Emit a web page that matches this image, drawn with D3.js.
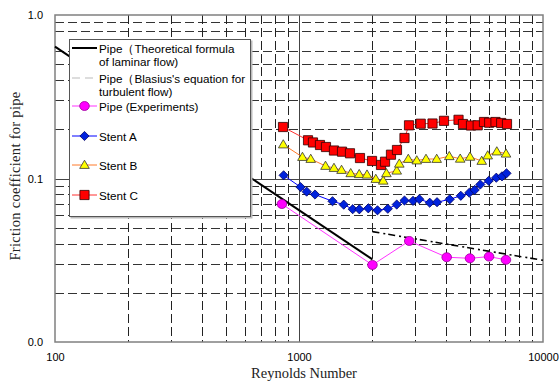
<!DOCTYPE html>
<html>
<head>
<meta charset="utf-8">
<script src="https://cdn.jsdelivr.net/npm/d3@7"></script>
<style>
body { margin: 0; background: #fff; }
text { font-family: "Liberation Sans", Arial, sans-serif; }
</style>
</head>
<body>
<svg id="chart" width="559" height="383"></svg>
<script>
// values
const pipeRe = [851, 2000, 2830, 4030, 5020, 6010, 7050];
const pipeF = [0.0698, 0.0296, 0.0415, 0.0330, 0.0325, 0.0333, 0.0318];

const stentARe = [865, 1014, 1075, 1163, 1372, 1525, 1660, 1767, 1923, 2097, 2312, 2515, 2706, 2933, 3112, 3434, 3679, 4146, 4604, 4989, 5250, 5534, 5993, 6436, 6792, 7086];
const stentAF = [0.1046, 0.0887, 0.0831, 0.0798, 0.0726, 0.0692, 0.0649, 0.0648, 0.0657, 0.0639, 0.0653, 0.0693, 0.0733, 0.0730, 0.0747, 0.0711, 0.0716, 0.0746, 0.0784, 0.0818, 0.0851, 0.0919, 0.0968, 0.1011, 0.1031, 0.1076];

const stentBRe = [862, 1033, 1117, 1284, 1391, 1494, 1629, 1765, 1900, 2064, 2214, 2282, 2515, 2577, 2805, 3038, 3315, 3667, 4130, 4578, 5021, 5609, 5935, 6467, 7055];
const stentBF = [0.1614, 0.1353, 0.1316, 0.1193, 0.1159, 0.1127, 0.1076, 0.1062, 0.1055, 0.0993, 0.0969, 0.1076, 0.1116, 0.1231, 0.1316, 0.1288, 0.1316, 0.1316, 0.1369, 0.1320, 0.1357, 0.1280, 0.1382, 0.1462, 0.1418];

const stentCRe = [860, 1089, 1141, 1219, 1290, 1391, 1501, 1618, 1778, 1992, 2168, 2252, 2382, 2521, 2706, 2824, 3154, 3525, 3929, 4506, 4700, 5069, 5400, 5731, 6019, 6388, 6741, 7120];
const stentCF = [0.2065, 0.1713, 0.1661, 0.1603, 0.1558, 0.1483, 0.1459, 0.1426, 0.1334, 0.1280, 0.1210, 0.1267, 0.1398, 0.1494, 0.1769, 0.2115, 0.2163, 0.2169, 0.2253, 0.2286, 0.2154, 0.2109, 0.2115, 0.2216, 0.2194, 0.2216, 0.2185, 0.2154];

// theory lines (end points)
const laminarRe = [100, 2000];
const laminarF = [0.64, 0.032];
const blasiusRe = [2000, 10000];
const blasiusF = [0.0473, 0.0316];

const xTicks = [100, 1000, 10000];
const yTicks = [0.01, 0.1, 1];
const xGrid = [200, 300, 400, 500, 600, 700, 800, 900, 2000, 3000, 4000, 5000, 6000, 7000, 8000, 9000];
const yGrid = [0.02, 0.03, 0.04, 0.05, 0.06, 0.07, 0.08, 0.09, 0.2, 0.3, 0.4, 0.5, 0.6, 0.8, 0.9];

const svg = d3.select("#chart");
const L = 55, R = 543, T = 15, B = 342;

const x = d3.scaleLog().domain([100, 10000]).range([L, R]);
const y = d3.scaleLog().domain([0.01, 1]).range([B, T]);

// grid
svg.append("g").selectAll("line").data(yGrid).enter().append("line")
  .attr("x1", L).attr("x2", R)
  .attr("y1", d => Math.round(y(d)) + 0.5).attr("y2", d => Math.round(y(d)) + 0.5)
  .attr("stroke", "#333").attr("stroke-dasharray", "9,4");
svg.append("g").selectAll("line").data(xGrid).enter().append("line")
  .attr("y1", T).attr("y2", B)
  .attr("x1", d => Math.round(x(d)) + 0.5).attr("x2", d => Math.round(x(d)) + 0.5)
  .attr("stroke", "#222").attr("stroke-dasharray", "9,4");

// solid lines at 0.1 and 1000
svg.append("line").attr("x1", L).attr("x2", R)
  .attr("y1", Math.round(y(0.1)) + 0.5).attr("y2", Math.round(y(0.1)) + 0.5)
  .attr("stroke", "#444");
svg.append("line").attr("y1", T).attr("y2", B)
  .attr("x1", Math.round(x(1000)) + 0.5).attr("x2", Math.round(x(1000)) + 0.5)
  .attr("stroke", "#444");

// frame
svg.append("rect").attr("x", L).attr("y", T).attr("width", R - L).attr("height", B - T)
  .attr("fill", "none").attr("stroke", "#808080").attr("stroke-width", 1.5);

// axes
const xAxis = svg.append("g").attr("transform", `translate(0,${B})`)
  .call(d3.axisBottom(x).tickValues(xTicks).tickFormat(d3.format("d")).tickSize(0).tickPadding(11));
xAxis.select(".domain").remove();
xAxis.selectAll("text").attr("font-size", 11).attr("fill", "#000")
  .attr("font-family", "Liberation Sans, Arial, sans-serif");

const yAxis = svg.append("g").attr("transform", `translate(${L},0)`)
  .call(d3.axisLeft(y).tickValues(yTicks).tickFormat(d3.format(".1f")).tickSize(0).tickPadding(12));
yAxis.select(".domain").remove();
yAxis.selectAll("text").attr("font-size", 11).attr("fill", "#000")
  .attr("font-family", "Liberation Sans, Arial, sans-serif");

svg.append("text").attr("x", 304).attr("y", 378).attr("text-anchor", "middle")
  .style("font-family", "Liberation Serif, Times New Roman, serif").attr("font-size", 14.5)
  .attr("fill", "#222")
  .text("Reynolds Number");
svg.append("text").attr("transform", "translate(20,176) rotate(-90)").attr("text-anchor", "middle")
  .style("font-family", "Liberation Serif, Times New Roman, serif").attr("font-size", 14.5)
  .attr("fill", "#222").attr("letter-spacing", 0.3)
  .text("Friction coefficient for pipe");

const line = d3.line().x(d => x(d[0])).y(d => y(d[1]));

// theory lines
svg.append("path").datum(d3.zip(laminarRe, laminarF)).attr("d", line)
  .attr("fill", "none").attr("stroke", "#000").attr("stroke-width", 2);
svg.append("path").datum(d3.zip(blasiusRe, blasiusF)).attr("d", line)
  .attr("fill", "none").attr("stroke", "#000").attr("stroke-width", 1.6)
  .attr("stroke-dasharray", "7,4,2,3");

// marker shapes
const shapes = {
  circle: "M4.8,0A4.8,4.5 0 1,1 -4.8,0A4.8,4.5 0 1,1 4.8,0Z",
  diamond: "M0,-4.6L4.6,0L0,4.6L-4.6,0Z",
  triangle: "M0,-4.8L4.8,3.4L-4.8,3.4Z",
  square: "M-4.6,-4.6H4.6V4.6H-4.6Z"
};

const series = [
  {name: "Pipe (Experiments)", re: pipeRe, f: pipeF, line: "#ff33ff", fill: "#ff00ff", stroke: "#990099", shape: "circle"},
  {name: "Stent A", re: stentARe, f: stentAF, line: "#0000ff", fill: "#0022dd", stroke: "#000066", shape: "diamond"},
  {name: "Stent B", re: stentBRe, f: stentBF, line: "#ff7a2a", fill: "#ffff00", stroke: "#333", shape: "triangle"},
  {name: "Stent C", re: stentCRe, f: stentCF, line: "#ff3030", fill: "#ff0000", stroke: "#300000", shape: "square"}
];

series.forEach(s => {
  const pts = d3.zip(s.re, s.f);
  svg.append("path").datum(pts).attr("d", line)
    .attr("fill", "none").attr("stroke", s.line).attr("stroke-width", 1);
  svg.append("g").selectAll("path").data(pts).enter().append("path")
    .attr("d", shapes[s.shape])
    .attr("transform", d => `translate(${x(d[0])},${y(d[1])})`)
    .attr("fill", s.fill).attr("stroke", s.stroke).attr("stroke-width", 0.8);
});

// legend
const lg = svg.append("g");
lg.append("rect").attr("x", 70.5).attr("y", 40.5).attr("width", 182).attr("height", 178)
  .attr("fill", "#bbb");
lg.append("rect").attr("x", 69.5).attr("y", 39.5).attr("width", 181).attr("height", 177)
  .attr("fill", "#fff").attr("stroke", "#555");

const legendRows = [
  {cy: 48, lines: ["Pipe\uFF08Theoretical formula", "of laminar flow)"], stroke: "#000", width: 2},
  {cy: 78, lines: ["Pipe\uFF08Blasius's equation for", "turbulent flow)"], stroke: "#bbb", width: 1, dash: "8,5"},
  {cy: 106, lines: ["Pipe (Experiments)"], s: series[0]},
  {cy: 136, lines: ["Stent A"], s: series[1]},
  {cy: 165, lines: ["Stent B"], s: series[2]},
  {cy: 195, lines: ["Stent C"], s: series[3]}
];

legendRows.forEach(r => {
  lg.append("line").attr("x1", 72).attr("x2", 97).attr("y1", r.cy).attr("y2", r.cy)
    .attr("stroke", r.s ? r.s.line : r.stroke)
    .attr("stroke-width", r.s ? 1 : r.width)
    .attr("stroke-dasharray", r.dash || null);
  if (r.s) {
    lg.append("path").attr("d", shapes[r.s.shape])
      .attr("transform", `translate(84.5,${r.cy})`)
      .attr("fill", r.s.fill).attr("stroke", r.s.stroke).attr("stroke-width", 0.8);
  }
  r.lines.forEach((t, i) => {
    lg.append("text").attr("x", 99).attr("y", r.cy + 4.5 + i * 13)
      .attr("font-size", 11.7).text(t);
  });
});
</script>
</body>
</html>
